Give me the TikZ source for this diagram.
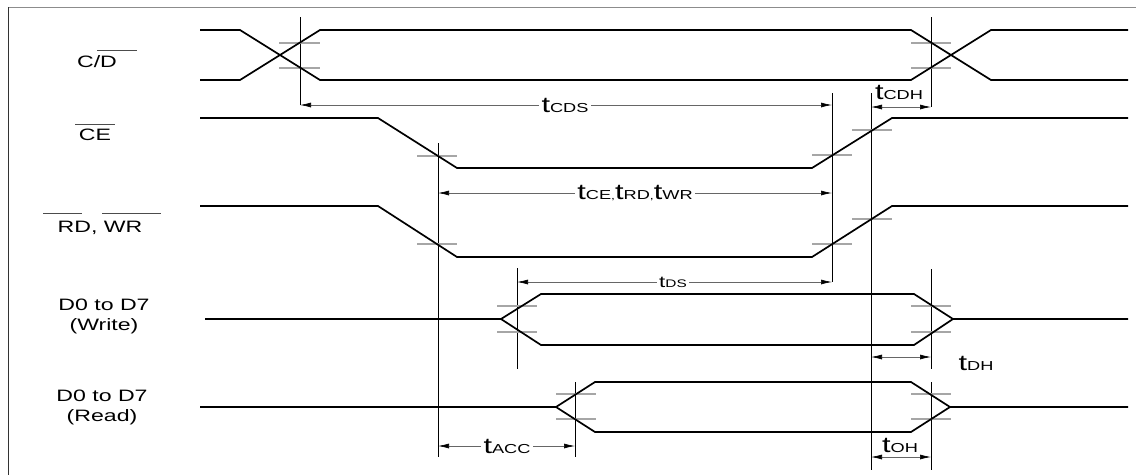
\documentclass[tikz,border=0pt]{standalone}
\usepackage{fontspec}
\setmainfont{Liberation Sans}
\usetikzlibrary{arrows.meta}
\newcommand{\tmark}[1]{{\fontsize{22}{22}\selectfont t}{\fontsize{13}{13}\selectfont #1}}
\newcommand{\tmarks}[1]{{\fontsize{16}{16}\selectfont t}{\fontsize{11}{11}\selectfont #1}}
\begin{document}
\begin{tikzpicture}[x=1pt,y=-1pt,
 sig/.style={line width=1.7pt, black, line join=miter},
 tck/.style={line width=1.3pt, black!35},
 vref/.style={line width=0.8pt, black},
 dim/.style={line width=0.7pt, black!60, {Latex[length=11pt,width=5pt,black]}-{Latex[length=11pt,width=5pt,black]}},
 lbl/.style={font=\fontsize{16.5}{20}\selectfont, xscale=1.4, align=center, inner sep=0pt},
 tlbl/.style={xscale=1.4, fill=white, inner sep=1.5pt},
 ovl/.style={line width=0.8pt, black!70}]
\useasboundingbox (0,0) rectangle (1136,475);
% frame
\draw[line width=0.9pt, black!45] (8,7) -- (1136,7);
\draw[line width=0.9pt, black!80] (8,7) -- (8,475);

% signal names
\node[lbl] (ncd) at (97,62) {C/D};
\draw[ovl] (97,50) -- (137,50);
\node[lbl] (nce) at (95,135) {CE};
\draw[ovl] (75,124) -- (115,124);
\node[lbl] (nrw) at (100,228) {RD, WR};
\draw[ovl] (43,213) -- (82,213);
\draw[ovl] (102,213) -- (161,213);
\node[lbl] (nw) at (104,316) {D0 to D7\\(Write)};
\node[lbl] (nr) at (102,407) {D0 to D7\\(Read)};

% reference verticals
\coordinate (a1) at (300,17);  \coordinate (a2) at (300,105);
\coordinate (b1) at (438,143); \coordinate (b2) at (438,457);
\coordinate (c1) at (832,93);  \coordinate (c2) at (832,282);
\coordinate (d1) at (871,93);  \coordinate (d2) at (871,470);
\coordinate (e1) at (931,17);  \coordinate (e2) at (931,107);
\coordinate (f1) at (931,269); \coordinate (f2) at (931,369);
\coordinate (g1) at (931,382); \coordinate (g2) at (931,470);
\coordinate (h1) at (517,268); \coordinate (h2) at (517,369);
\coordinate (k1) at (575,382); \coordinate (k2) at (575,457);
\foreach \p in {a,b,c,d,e,f,g,h,k} {\draw[vref] (\p1) -- (\p2);}

% ticks
\foreach \y in {43,68} {
  \draw[tck] (279,\y) -- (320,\y);
  \draw[tck] (911,\y) -- (951,\y);}
\draw[tck] (417,156) -- (457,156);
\draw[tck] (812,155) -- (852,155);
\draw[tck] (852,130) -- (892,130);
\draw[tck] (417,244) -- (457,244);
\draw[tck] (812,244) -- (852,244);
\draw[tck] (852,219) -- (892,219);
\foreach \y in {306,332} {
  \draw[tck] (497,\y) -- (537,\y);
  \draw[tck] (911,\y) -- (951,\y);}
\foreach \y in {394,419} {
  \draw[tck] (556,\y) -- (596,\y);
  \draw[tck] (911,\y) -- (951,\y);}

% signals
\draw[sig] (200,30) -- (240,30) -- (320,80) -- (911,80) -- (991,30) -- (1128,30);
\draw[sig] (200,80) -- (240,80) -- (320,30) -- (911,30) -- (991,80) -- (1128,80);
\draw[sig] (200,118) -- (378,118) -- (457,168) -- (812,168) -- (892,118) -- (1128,118);
\draw[sig] (200,206) -- (378,206) -- (457,257) -- (812,257) -- (892,206) -- (1128,206);
\draw[sig] (205,319) -- (501,319) -- (541,294) -- (914,294) -- (953,319) -- (1128,319);
\draw[sig] (501,319) -- (541,345) -- (914,345) -- (953,319);
\draw[sig] (200,407) -- (556,407) -- (595,382) -- (911,382) -- (950,407) -- (1128,407);
\draw[sig] (556,407) -- (595,432) -- (911,432) -- (950,407);

% dimension arrows
\coordinate (p1) at (300,105); \coordinate (p2) at (832,105);
\draw[dim] (p1) -- (p2);
\node[tlbl] (tcds) at (565,105) {\tmark{CDS}};

\coordinate (q1) at (871,107); \coordinate (q2) at (931,107);
\draw[dim] (q1) -- (q2);
\node[tlbl, fill=none] (tcdh) at (899,92) {\tmark{CDH}};

\coordinate (r1) at (438,193); \coordinate (r2) at (832,193);
\draw[dim] (r1) -- (r2);
\node[tlbl] (tce) at (635,193) {\tmark{CE},\tmark{RD},\tmark{WR}};

\coordinate (s1) at (517,282); \coordinate (s2) at (832,282);
\draw[dim] (s1) -- (s2);
\node[tlbl] (tds) at (673,282) {\tmarks{DS}};

\coordinate (u1) at (871,357); \coordinate (u2) at (931,357);
\draw[dim] (u1) -- (u2);
\node[tlbl, fill=none] (tdh) at (976,363) {\tmark{DH}};

\coordinate (w1) at (438,446); \coordinate (w2) at (575,446);
\draw[dim] (w1) -- (w2);
\node[tlbl] (tacc) at (507,446) {\tmark{ACC}};

\coordinate (z1) at (871,457); \coordinate (z2) at (931,457);
\draw[dim] (z1) -- (z2);
\node[tlbl, fill=none] (toh) at (900,445) {\tmark{OH}};
\end{tikzpicture}
\end{document}
